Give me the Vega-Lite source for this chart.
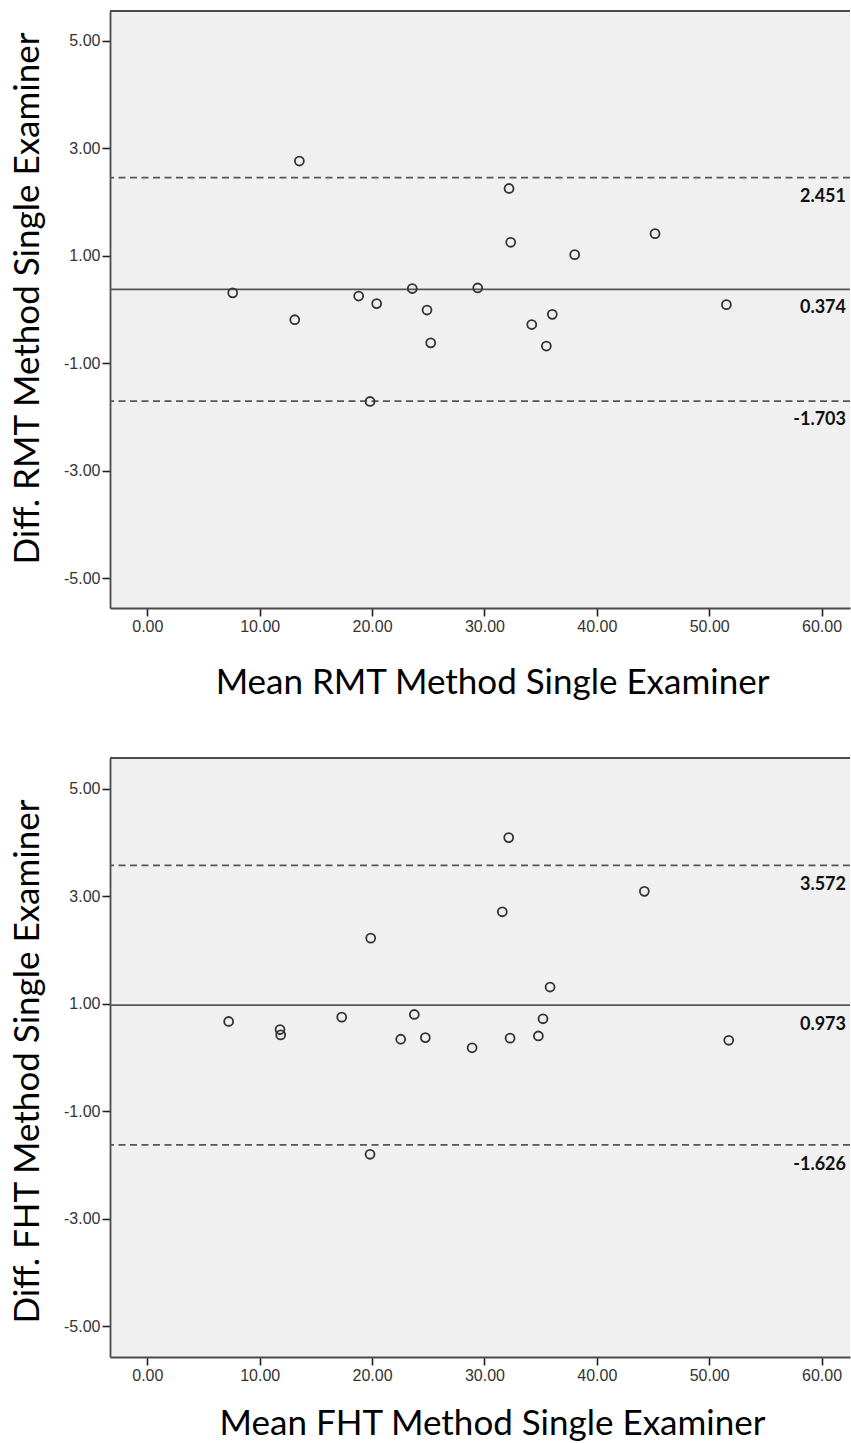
{
  "$schema": "https://vega.github.io/schema/vega-lite/v6.json",
  "background": "white",
  "padding": {"left": 10, "top": 10, "right": 0, "bottom": 0},
  "autosize": {"type": "pad"},
  "spacing": 150,
  "bounds": "flush",
  "config": {
    "view": {"stroke": null, "fill": "#f0f0f0"},
    "axis": {
      "grid": false,
      "domainColor": "#4a4a4a",
      "domainWidth": 1.8,
      "tickColor": "#222222",
      "tickWidth": 1.6,
      "tickSize": 8,
      "labelFont": "Liberation Sans Narrow, Liberation Sans, sans-serif",
      "labelFontSize": 16,
      "labelColor": "#333333",
      "labelPadding": 2,
      "labelExpr": "(datum.value < 0 ? '-' : '') + format(abs(datum.value), '.2f')",
      "titleFont": "Lato",
      "titleFontSize": 35,
      "titleFontWeight": "normal",
      "titleColor": "#000000"
    }
  },
  "datasets": {
    "rmt": [
      {"mean": 7.60, "diff": 0.31},
      {"mean": 13.53, "diff": 2.76},
      {"mean": 13.12, "diff": -0.19},
      {"mean": 18.81, "diff": 0.25},
      {"mean": 20.41, "diff": 0.11},
      {"mean": 19.82, "diff": -1.71},
      {"mean": 23.58, "diff": 0.39},
      {"mean": 24.89, "diff": -0.01},
      {"mean": 25.22, "diff": -0.62},
      {"mean": 29.40, "diff": 0.40},
      {"mean": 32.19, "diff": 2.25},
      {"mean": 32.34, "diff": 1.25},
      {"mean": 34.21, "diff": -0.28},
      {"mean": 35.51, "diff": -0.68},
      {"mean": 36.04, "diff": -0.09},
      {"mean": 38.03, "diff": 1.02},
      {"mean": 45.18, "diff": 1.41},
      {"mean": 51.53, "diff": 0.09}
    ],
    "rmtLines": [
      {"v": 2.451, "kind": "limit", "label": "2.451"},
      {"v": 0.374, "kind": "mean", "label": "0.374"},
      {"v": -1.703, "kind": "limit", "label": "-1.703"}
    ],
    "fht": [
      {"mean": 7.24, "diff": 0.67},
      {"mean": 11.81, "diff": 0.52},
      {"mean": 11.87, "diff": 0.42},
      {"mean": 17.30, "diff": 0.75},
      {"mean": 19.88, "diff": 2.22},
      {"mean": 19.82, "diff": -1.80},
      {"mean": 22.55, "diff": 0.34},
      {"mean": 23.76, "diff": 0.80},
      {"mean": 24.74, "diff": 0.37},
      {"mean": 28.90, "diff": 0.18},
      {"mean": 31.59, "diff": 2.71},
      {"mean": 32.16, "diff": 4.09},
      {"mean": 32.28, "diff": 0.36},
      {"mean": 34.80, "diff": 0.40},
      {"mean": 35.21, "diff": 0.72},
      {"mean": 35.84, "diff": 1.31},
      {"mean": 44.23, "diff": 3.09},
      {"mean": 51.74, "diff": 0.32}
    ],
    "fhtLines": [
      {"v": 3.572, "kind": "limit", "label": "3.572"},
      {"v": 0.973, "kind": "mean", "label": "0.973"},
      {"v": -1.626, "kind": "limit", "label": "-1.626"}
    ]
  },
  "vconcat": [
    {
      "width": 740,
      "height": 597,
      "layer": [
        {
          "data": {"name": "rmtLines"},
          "mark": {"type": "rule", "color": "#555555", "strokeWidth": 1.7},
          "encoding": {
            "y": {"field": "v", "type": "quantitative",
              "scale": {"domain": [-5.55, 5.55], "nice": false, "zero": false},
              "axis": {"values": [-5, -3, -1, 1, 3, 5],
                "title": "Diff. RMT Method Single Examiner",
                "titleAngle": -90, "titleAlign": "center", "titleBaseline": "alphabetic",
                "titleX": -72, "titleY": 287}},
            "strokeDash": {"field": "kind", "type": "nominal",
              "scale": {"domain": ["mean", "limit"], "range": [[1, 0], [7, 4.5]]},
              "legend": null}
          }
        },
        {
          "data": {"name": "rmtLines"},
          "mark": {"type": "text", "align": "right", "baseline": "middle", "dx": -4, "dy": 19,
            "font": "Lato", "fontSize": 18, "fontWeight": "bold", "color": "#111111"},
          "encoding": {
            "x": {"datum": 62.53, "type": "quantitative"},
            "y": {"field": "v", "type": "quantitative"},
            "text": {"field": "label"}
          }
        },
        {
          "data": {"values": [{"top": 5.55}]},
          "mark": {"type": "rule", "color": "#4a4a4a", "strokeWidth": 1.8},
          "encoding": {"y": {"field": "top", "type": "quantitative"}}
        },
        {
          "data": {"name": "rmt"},
          "mark": {"type": "point", "shape": "circle", "filled": false, "color": "#333333", "strokeWidth": 1.8, "size": 80, "opacity": 1},
          "encoding": {
            "x": {"field": "mean", "type": "quantitative",
              "scale": {"domain": [-3.32, 62.53], "nice": false, "zero": false},
              "axis": {"values": [0, 10, 20, 30, 40, 50, 60],
                "title": "Mean RMT Method Single Examiner",
                "titleX": 382, "titleY": 85, "titleBaseline": "alphabetic", "titleAlign": "center"}},
            "y": {"field": "diff", "type": "quantitative"}
          }
        }
      ]
    },
    {
      "width": 740,
      "height": 599,
      "layer": [
        {
          "data": {"name": "fhtLines"},
          "mark": {"type": "rule", "color": "#555555", "strokeWidth": 1.7},
          "encoding": {
            "y": {"field": "v", "type": "quantitative",
              "scale": {"domain": [-5.57, 5.57], "nice": false, "zero": false},
              "axis": {"values": [-5, -3, -1, 1, 3, 5],
                "title": "Diff. FHT Method Single Examiner",
                "titleAngle": -90, "titleAlign": "center", "titleBaseline": "alphabetic",
                "titleX": -72, "titleY": 303}},
            "strokeDash": {"field": "kind", "type": "nominal",
              "scale": {"domain": ["mean", "limit"], "range": [[1, 0], [7, 4.5]]},
              "legend": null}
          }
        },
        {
          "data": {"name": "fhtLines"},
          "mark": {"type": "text", "align": "right", "baseline": "middle", "dx": -4, "dy": 20,
            "font": "Lato", "fontSize": 18, "fontWeight": "bold", "color": "#111111"},
          "encoding": {
            "x": {"datum": 62.53, "type": "quantitative"},
            "y": {"field": "v", "type": "quantitative"},
            "text": {"field": "label"}
          }
        },
        {
          "data": {"values": [{"top": 5.57}]},
          "mark": {"type": "rule", "color": "#4a4a4a", "strokeWidth": 1.8},
          "encoding": {"y": {"field": "top", "type": "quantitative"}}
        },
        {
          "data": {"name": "fht"},
          "mark": {"type": "point", "shape": "circle", "filled": false, "color": "#333333", "strokeWidth": 1.8, "size": 80, "opacity": 1},
          "encoding": {
            "x": {"field": "mean", "type": "quantitative",
              "scale": {"domain": [-3.32, 62.53], "nice": false, "zero": false},
              "axis": {"values": [0, 10, 20, 30, 40, 50, 60],
                "title": "Mean FHT Method Single Examiner",
                "titleX": 382, "titleY": 77, "titleBaseline": "alphabetic", "titleAlign": "center"}},
            "y": {"field": "diff", "type": "quantitative"}
          }
        }
      ]
    }
  ]
}
